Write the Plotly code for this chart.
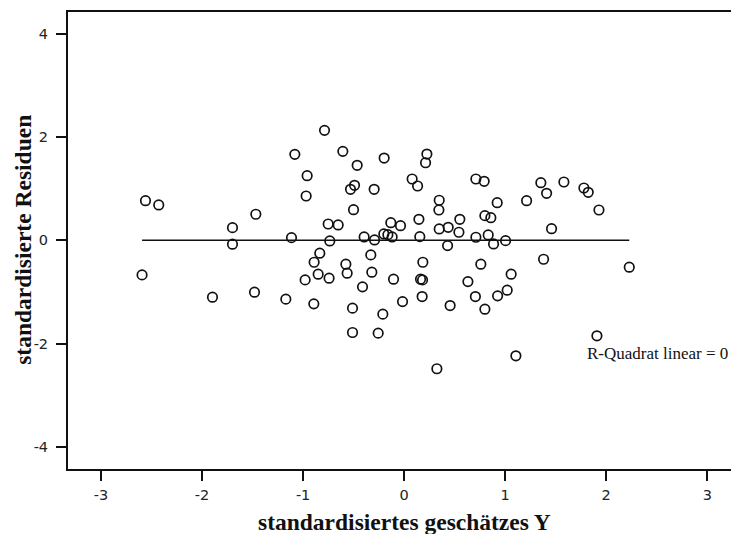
import plotly.graph_objects as go

# standardisiertes geschätztes Y (x) and standardisierte Residuen (y)
pred_y = [-2.560, -2.429, -2.594, -1.897, -1.699, -1.699, -1.468, -1.481, -1.082, -0.960,
          -0.970, -1.115, -1.171, -0.788, -0.752, -0.653, -0.736, -0.835, -0.891, -0.851,
          -0.743, -0.980, -0.894, -0.607, -0.465, -0.491, -0.531, -0.501, -0.396, -0.297,
          -0.293, -0.330, -0.577, -0.564, -0.320, -0.412, -0.511, -0.511, -0.257, -0.211,
          -0.198, -0.201, -0.161, -0.119, -0.132, -0.036, -0.105, -0.016, 0.225, 0.212,
          0.079, 0.133, 0.146, 0.155, 0.185, 0.162, 0.182, 0.178, 0.324, 0.347,
          0.344, 0.347, 0.436, 0.551, 0.542, 0.430, 0.455, 0.631, 0.710, 0.710,
          0.759, 0.705, 0.792, 0.921, 0.799, 0.858, 0.832, 0.885, 1.004, 1.212,
          1.353, 1.410, 1.581, 1.779, 1.822, 1.928, 1.459, 1.380, 2.228, 1.059,
          1.020, 0.925, 0.799, 1.908, 1.106]
residuals = [0.766, 0.683, -0.671, -1.103, 0.244, -0.077, 0.503, -1.006, 1.663, 1.250,
             0.857, 0.050, -1.141, 2.128, 0.315, 0.296, -0.014, -0.251, -0.426, -0.658,
             -0.735, -0.768, -1.232, 1.721, 1.451, 1.064, 0.986, 0.592, 0.064, 0.986,
             0.006, -0.284, -0.464, -0.638, -0.619, -0.903, -1.315, -1.787, -1.799, -1.431,
             1.592, 0.122, 0.108, 0.064, 0.340, 0.282, -0.754, -1.188, 1.669, 1.501,
             1.186, 1.050, 0.406, 0.070, -0.426, -0.754, -0.768, -1.091, -2.489, 0.774,
             0.586, 0.219, 0.251, 0.406, 0.155, -0.104, -1.265, -0.801, 1.186, 0.058,
             -0.464, -1.091, 1.141, 0.727, 0.476, 0.437, 0.103, -0.072, -0.008, 0.766,
             1.114, 0.909, 1.128, 1.012, 0.928, 0.586, 0.224, -0.368, -0.522, -0.658,
             -0.967, -1.077, -1.335, -1.851, -2.238]

x_ticks = [-3, -2, -1, 0, 1, 2, 3]
x_tick_labels = ["-3", "-2", "-1", "0", "1", "2", "3"]
y_ticks = [-4, -2, 0, 2, 4]
y_tick_labels = ["-4", "-2", "0", "2", "4"]
fit_slope = 0.0
fit_intercept = 0.0
r2_label = "R-Quadrat linear = 0"
x_title = "standardisiertes geschätzes Y"
y_title = "standardisierte Residuen"

fig = go.Figure()
fit_x = [min(pred_y), max(pred_y)]
fig.add_trace(go.Scatter(
    x=fit_x, y=[fit_intercept + fit_slope * v for v in fit_x],
    mode="lines", line=dict(color="#111111", width=1.6),
    hoverinfo="skip", showlegend=False))
fig.add_trace(go.Scatter(
    x=pred_y, y=residuals, mode="markers",
    marker=dict(symbol="circle-open", size=9.5, color="#111111",
                line=dict(color="#111111", width=1.7)),
    showlegend=False))

tickfont = dict(family="DejaVu Sans", size=14.5, color="#222222")
fig.update_layout(
    width=731, height=534,
    margin=dict(l=68, r=0, t=12, b=65),
    paper_bgcolor="white", plot_bgcolor="white",
    xaxis=dict(range=[-3.327, 3.235], tickvals=x_ticks, ticktext=x_tick_labels,
               ticks="outside", ticklen=10,
               tickwidth=2, tickcolor="#111111", showline=True, linewidth=2,
               linecolor="#111111", mirror=True, showgrid=False, zeroline=False,
               tickfont=tickfont, ticklabelstandoff=2),
    yaxis=dict(range=[-4.43, 4.42], tickvals=y_ticks, ticktext=y_tick_labels,
               ticks="outside", ticklen=10,
               tickwidth=2, tickcolor="#111111", showline=True, linewidth=2,
               linecolor="#111111", mirror=False, showgrid=False, zeroline=False,
               tickfont=tickfont, ticklabelstandoff=5),
    annotations=[
        dict(text="<b>" + x_title + "</b>", xref="x", yref="paper", x=0, y=-0.115,
             xanchor="center", yanchor="middle", showarrow=False,
             font=dict(family="Liberation Serif", size=23.5, color="#111111")),
        dict(text="<b>" + y_title + "</b>", xref="paper", yref="y", x=-0.067, y=0,
             xanchor="center", yanchor="middle", showarrow=False, textangle=-90,
             font=dict(family="Liberation Serif", size=23.5, color="#111111")),
        dict(text=r2_label, xref="x", yref="y", x=1.785, y=-2.19,
             xanchor="left", yanchor="middle", showarrow=False,
             font=dict(family="Liberation Serif", size=17, color="#111111")),
    ],
)
fig.write_html(
    "out.html",
    config={"displayModeBar": False},
    post_script="document.documentElement.style.margin='0';"
                "document.body.style.margin='0';"
                "document.body.style.overflow='hidden';"
                "document.documentElement.style.overflow='hidden';",
)
